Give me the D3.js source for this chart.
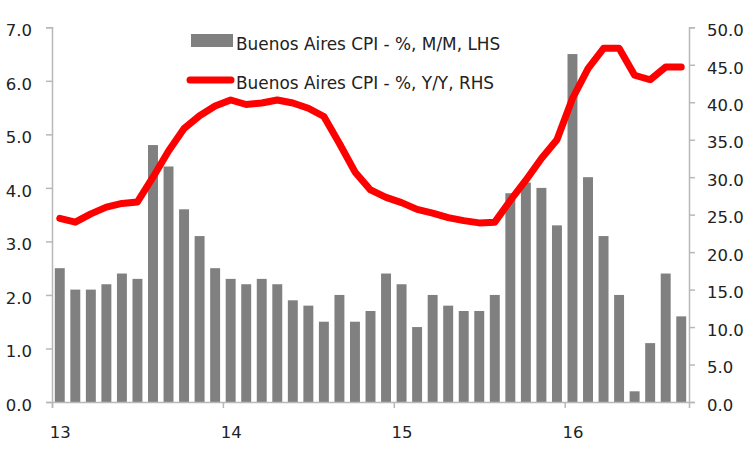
<!DOCTYPE html>
<html>
<head>
<meta charset="utf-8">
<script src="https://cdn.jsdelivr.net/npm/d3@7"></script>
<style>
  body { margin: 0; background: #fff; }
  text { font-family: "DejaVu Sans", Verdana, sans-serif; fill: #222; }
</style>
</head>
<body>
<div id="chart"></div>
<script>
// monthly readings, 41 periods
const mmValues = [2.5, 2.1, 2.1, 2.2, 2.4, 2.3, 4.8, 4.4, 3.6, 3.1, 2.5,
  2.3, 2.2, 2.3, 2.2, 1.9, 1.8, 1.5, 2.0, 1.5, 1.7, 2.4,
  2.2, 1.4, 2.0, 1.8, 1.7, 1.7, 2.0, 3.9, 4.1, 4.0, 3.3,
  6.5, 4.2, 3.1, 2.0, 0.2, 1.1, 2.4, 1.6];
const yyValues = [24.5, 24.0, 25.1, 26.0, 26.5, 26.7, 30.0, 33.5, 36.5, 38.2, 39.5,
  40.3, 39.7, 39.9, 40.3, 39.9, 39.2, 38.1, 34.5, 30.7, 28.3, 27.3,
  26.6, 25.7, 25.2, 24.6, 24.2, 23.9, 24.0, 26.9, 29.6, 32.5, 35.0,
  40.5, 44.5, 47.2, 47.2, 43.6, 43.0, 44.7, 44.7];
const xTickIndex = [0, 11, 22, 33];
const xTickLabels = ["13", "14", "15", "16"];
const leftTicks = [0, 1, 2, 3, 4, 5, 6, 7];
const rightTicks = [0, 5, 10, 15, 20, 25, 30, 35, 40, 45, 50];
const legendLabels = ["Buenos Aires CPI - %, M/M, LHS", "Buenos Aires CPI - %, Y/Y, RHS"];

const width = 750, height = 452;
const plotLeft = 52, plotRight = 689, plotTop = 27.3, plotBottom = 402;

const svg = d3.select("#chart").append("svg")
  .attr("width", width)
  .attr("height", height);

const x = d3.scaleBand()
  .domain(d3.range(mmValues.length))
  .range([plotLeft, plotRight])
  .paddingInner(0.36)
  .paddingOuter(0.18);

const yL = d3.scaleLinear().domain([0, 7]).range([plotBottom, plotTop]);
const yR = d3.scaleLinear().domain([0, 50]).range([plotBottom, plotTop]);

// bars
svg.append("g")
  .selectAll("rect")
  .data(mmValues)
  .join("rect")
  .attr("x", (d, i) => x(i))
  .attr("y", d => yL(d))
  .attr("width", x.bandwidth())
  .attr("height", d => plotBottom - yL(d))
  .attr("fill", "#808080");

// axes
const axisColor = "#b8b8b8";
const fmt = d3.format(".1f");

const gL = svg.append("g")
  .attr("transform", `translate(${plotLeft},0)`)
  .call(d3.axisLeft(yL).tickValues(leftTicks).tickFormat(fmt).tickSize(6).tickPadding(14));

const gR = svg.append("g")
  .attr("transform", `translate(${plotRight},0)`)
  .call(d3.axisRight(yR).tickValues(rightTicks).tickFormat(fmt).tickSize(6).tickPadding(12));

const step = x.step();
const xTickScale = d3.scaleLinear().domain([0, mmValues.length]).range([plotLeft, plotRight]);
const gB = svg.append("g")
  .attr("transform", `translate(0,${plotBottom})`)
  .call(d3.axisBottom(xTickScale).tickValues(xTickIndex).tickFormat((d, i) => xTickLabels[i]).tickSize(6).tickPadding(18));

[gL, gR, gB].forEach(g => {
  g.select(".domain").attr("stroke", axisColor).attr("stroke-width", 1.5);
  g.selectAll(".tick line").attr("stroke", axisColor).attr("stroke-width", 1.5);
  g.selectAll(".tick text")
    .attr("font-family", "DejaVu Sans, Verdana, sans-serif")
    .attr("font-size", 16.5)
    .attr("fill", "#2a2a2a");
});
gL.selectAll(".tick text").attr("dy", "0.5em");
gR.selectAll(".tick text").attr("dy", "0.5em");
gB.selectAll(".tick text").attr("dx", step / 2);

// red line
const line = d3.line()
  .x((d, i) => x(i) + x.bandwidth() / 2)
  .y(d => yR(d));

svg.append("path")
  .datum(yyValues)
  .attr("d", line)
  .attr("fill", "none")
  .attr("stroke", "#ff0000")
  .attr("stroke-width", 7)
  .attr("stroke-linejoin", "round")
  .attr("stroke-linecap", "round");

// legend
const legend = svg.append("g");
legend.append("rect")
  .attr("x", 191).attr("y", 34)
  .attr("width", 42).attr("height", 13)
  .attr("fill", "#808080");
legend.append("line")
  .attr("x1", 190).attr("x2", 231)
  .attr("y1", 80).attr("y2", 80)
  .attr("stroke", "#ff0000")
  .attr("stroke-width", 7)
  .attr("stroke-linecap", "round");
legend.selectAll("text")
  .data(legendLabels)
  .join("text")
  .attr("x", 236)
  .attr("y", (d, i) => i === 0 ? 49.5 : 88.5)
  .attr("font-size", 16.9)
  .attr("fill", "#2a2a2a")
  .text(d => d);
</script>
</body>
</html>
